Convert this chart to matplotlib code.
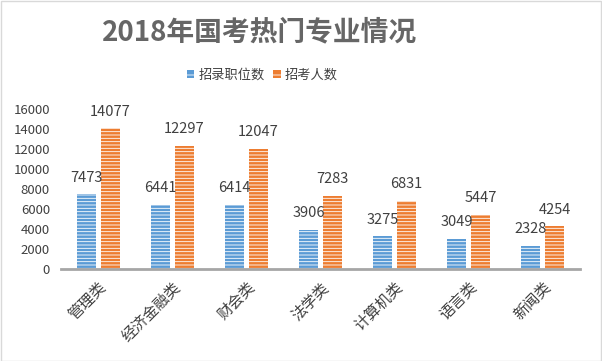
import matplotlib
matplotlib.use("Agg")
import matplotlib.pyplot as plt
import matplotlib.transforms as mtransforms
import numpy as np
from matplotlib.patches import Rectangle, Patch

plt.rcParams['font.family'] = ['Noto Sans CJK SC', 'DejaVu Sans']
plt.rcParams['hatch.linewidth'] = 0.6

categories = ['管理类', '经济金融类', '财会类', '法学类', '计算机类', '语言类', '新闻类']
positions = [7473, 6441, 6414, 3906, 3275, 3049, 2328]
applicants = [14077, 12297, 12047, 7283, 6831, 5447, 4254]
series_names = ['招录职位数', '招考人数']
yticks = [0, 2000, 4000, 6000, 8000, 10000, 12000, 14000, 16000]

blue = '#5B9BD5'
orange = '#ED7D31'

fig = plt.figure(figsize=(6.02, 3.61), dpi=100)
ax = fig.add_axes([61/602, 1-269/361, (580-61)/602, (269-109)/361])

x = np.arange(len(categories))
w = 0.257
off = 0.162
b1 = ax.bar(x - off, positions, w, color=blue, edgecolor='white', hatch='-----', linewidth=0)
b2 = ax.bar(x + off, applicants, w, color=orange, edgecolor='white', hatch='-----', linewidth=0)

for bars, vals in ((b1, positions), (b2, applicants)):
    for r, v in zip(bars, vals):
        ax.annotate(str(v), (r.get_x() + r.get_width()/2, v), xytext=(0, 7),
                    textcoords='offset points', ha='center', va='bottom',
                    fontsize=10.5, color='#404040')

ax.set_xlim(-0.5, len(categories) - 0.5)
ax.set_ylim(0, 16000)
ax.set_yticks(yticks)
ax.set_yticklabels([str(t) for t in yticks], fontsize=9.5, color='#404040')
ax.tick_params(axis='y', length=0, pad=8)
ax.set_xticks(x)
ax.set_xticklabels(categories, rotation=45, ha='right', va='center', rotation_mode='anchor',
                   fontsize=11, color='#404040')
ax.tick_params(axis='x', length=0, pad=0)
shift = mtransforms.ScaledTranslation(6/100, -16/100, fig.dpi_scale_trans)
for lab in ax.get_xticklabels():
    lab.set_transform(lab.get_transform() + shift)
for s in ('top', 'right', 'left'):
    ax.spines[s].set_visible(False)
ax.spines['bottom'].set_color('#A6A6A6')
ax.spines['bottom'].set_linewidth(2)

fig.text(260/602, 1-32/361, '2018年国考热门专业情况', ha='center', va='center',
         fontsize=20, fontweight='bold', color='#666666')

handles = [Patch(facecolor=blue, edgecolor='white', hatch='---', linewidth=0),
           Patch(facecolor=orange, edgecolor='white', hatch='---', linewidth=0)]
fig.legend(handles, series_names, loc='center', bbox_to_anchor=(262/602, 1-75/361),
           ncol=2, frameon=False, fontsize=9.5, handlelength=0.6, handleheight=0.6,
           handletextpad=0.3, columnspacing=0.6, labelcolor='#404040')

fig.patches.append(Rectangle((0.001, 0.001), 0.997, 0.996, transform=fig.transFigure,
                             fill=False, edgecolor='#D9D9D9', linewidth=1))

fig.savefig('out.png', dpi=100)
